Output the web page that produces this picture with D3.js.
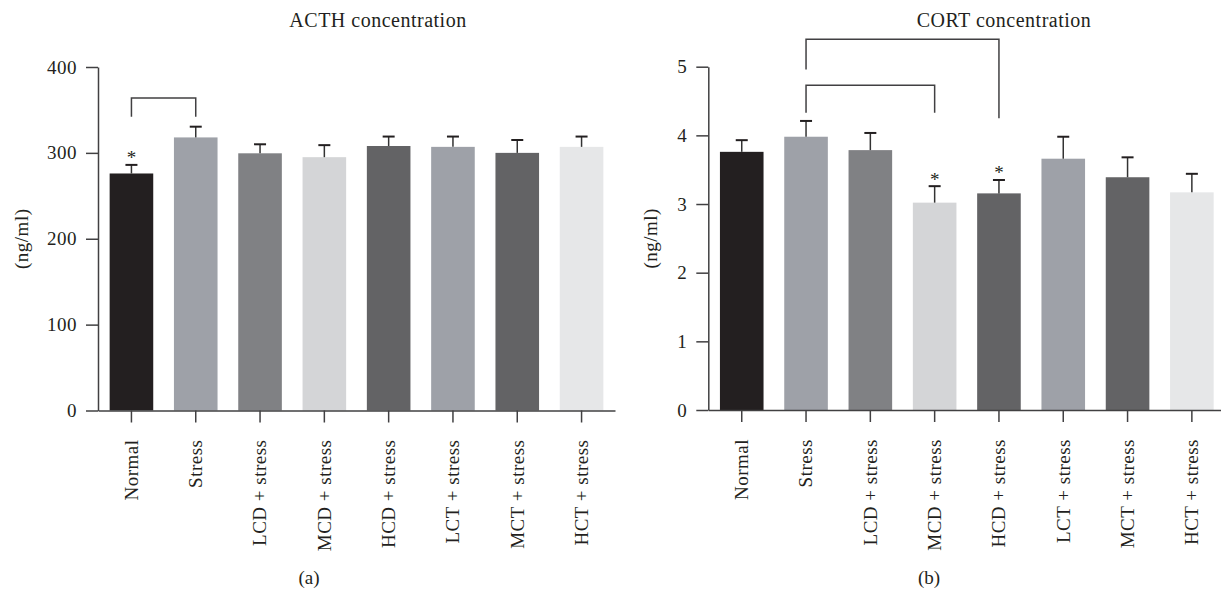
<!DOCTYPE html>
<html>
<head>
<meta charset="utf-8">
<script src="https://cdn.jsdelivr.net/npm/d3@7"></script>
<style>
  body { margin: 0; background: #fff; }
  svg text { font-family: "Liberation Serif", "Times New Roman", serif; fill: #231f20; }
  .axis path, .axis line { stroke: #414042; stroke-width: 1.5; }
  .axis text { font-size: 19px; letter-spacing: 0.5px; }
</style>
</head>
<body>
<svg id="chart" width="1221" height="592"></svg>
<script>
var groups = ["Normal", "Stress", "LCD + stress", "MCD + stress", "HCD + stress", "LCT + stress", "MCT + stress", "HCT + stress"];
var fills = ["#231f20", "#9ea1a8", "#808184", "#d4d5d7", "#636365", "#9ea1a8", "#636365", "#e6e7e8"];

var acthMean = [276, 318, 299.5, 295, 308, 307, 300, 307];
var acthErr = [10, 12.5, 10.5, 14, 11, 12, 15, 12];
var acthTicks = [0, 100, 200, 300, 400];
var acthStars = [0];
// bracket: [from group, to group, top level, left leg end, right leg end]
var acthBrackets = [[0, 1, 364, 342, 342]];

var cortMean = [3.76, 3.98, 3.785, 3.02, 3.155, 3.66, 3.39, 3.17];
var cortErr = [0.17, 0.23, 0.25, 0.24, 0.195, 0.32, 0.29, 0.27];
var cortTicks = [0, 1, 2, 3, 4, 5];
var cortStars = [3, 4];
var cortBrackets = [[1, 4, 5.40, 4.96, 4.25], [1, 3, 4.73, 4.33, 4.33]];

var svg = d3.select("#chart");

function drawPanel(opt) {
    var x = d3.scaleBand()
        .domain(groups)
        .range([opt.left, opt.left + 517])
        .paddingInner(0.322)
        .paddingOuter(0.181);

    var y = d3.scaleLinear()
        .domain([0, opt.max])
        .range([opt.bottom, opt.top]);

    var g = svg.append("g");

    /* bars */
    g.selectAll(".bar")
        .data(opt.mean)
        .enter().append("rect")
        .attr("class", "bar")
        .attr("x", function (d, i) { return x(groups[i]); })
        .attr("y", function (d) { return y(d); })
        .attr("width", x.bandwidth())
        .attr("height", function (d) { return y(0) - y(d); })
        .attr("fill", function (d, i) { return fills[i]; });

    /* error bars */
    var cx = function (i) { return x(groups[i]) + x.bandwidth() / 2; };
    var eb = g.selectAll(".err")
        .data(opt.mean)
        .enter().append("g")
        .attr("class", "err");
    eb.append("line")
        .attr("x1", function (d, i) { return cx(i); })
        .attr("x2", function (d, i) { return cx(i); })
        .attr("y1", function (d) { return y(d); })
        .attr("y2", function (d, i) { return y(d + opt.err[i]); })
        .attr("stroke", "#333")
        .attr("stroke-width", 1.5);
    eb.append("line")
        .attr("x1", function (d, i) { return cx(i) - 6; })
        .attr("x2", function (d, i) { return cx(i) + 6; })
        .attr("y1", function (d, i) { return y(d + opt.err[i]); })
        .attr("y2", function (d, i) { return y(d + opt.err[i]); })
        .attr("stroke", "#231f20")
        .attr("stroke-width", 2);

    /* stars */
    g.selectAll(".star")
        .data(opt.stars)
        .enter().append("text")
        .attr("class", "star")
        .attr("x", function (i) { return cx(i); })
        .attr("y", function (i) { return y(opt.mean[i] + opt.err[i]) - 0.5; })
        .attr("text-anchor", "middle")
        .style("font-size", "19px")
        .text("*");

    /* brackets */
    g.selectAll(".bracket")
        .data(opt.brackets)
        .enter().append("path")
        .attr("class", "bracket")
        .attr("fill", "none")
        .attr("stroke", "#414042")
        .attr("stroke-width", 1.5)
        .attr("d", function (b) {
            return "M" + cx(b[0]) + "," + y(b[3]) +
                "V" + y(b[2]) + "H" + cx(b[1]) + "V" + y(b[4]);
        });

    /* axes */
    g.append("g")
        .attr("class", "axis")
        .attr("transform", "translate(" + opt.left + ",0)")
        .call(d3.axisLeft(y)
            .tickValues(opt.ticks)
            .tickFormat(d3.format("d"))
            .tickSize(12)
            .tickSizeOuter(0)
            .tickPadding(9));

    var xa = g.append("g")
        .attr("class", "axis")
        .attr("transform", "translate(0," + opt.bottom + ")")
        .call(d3.axisBottom(x)
            .tickSize(12)
            .tickSizeOuter(0));
    xa.selectAll("text")
        .attr("transform", "rotate(-90)")
        .attr("x", -29)
        .attr("y", 0)
        .attr("dy", "0.33em")
        .attr("text-anchor", "end");

    /* labels */
    g.append("text")
        .attr("transform", "translate(" + opt.ylabX + "," + ((opt.top + opt.bottom) / 2) + ") rotate(-90)")
        .attr("text-anchor", "middle")
        .attr("dy", "0.33em")
        .style("font-size", "19px")
        .style("letter-spacing", "0.5px")
        .text("(ng/ml)");

    g.append("text")
        .attr("x", opt.titleX)
        .attr("y", 27)
        .attr("text-anchor", "middle")
        .style("font-size", "20px")
        .style("letter-spacing", "0.5px")
        .text(opt.title);

    g.append("text")
        .attr("x", opt.tagX)
        .attr("y", 584)
        .attr("text-anchor", "middle")
        .style("font-size", "19px")
        .text(opt.tag);
}

drawPanel({
    left: 98, top: 67, bottom: 410.5, max: 400,
    mean: acthMean, err: acthErr, ticks: acthTicks,
    stars: acthStars, brackets: acthBrackets,
    ylabX: 22, title: "ACTH concentration", titleX: 378, tag: "(a)", tagX: 309
});

drawPanel({
    left: 708.3, top: 66.7, bottom: 410, max: 5,
    mean: cortMean, err: cortErr, ticks: cortTicks,
    stars: cortStars, brackets: cortBrackets,
    ylabX: 651, title: "CORT concentration", titleX: 1004, tag: "(b)", tagX: 929
});
</script>
</body>
</html>
